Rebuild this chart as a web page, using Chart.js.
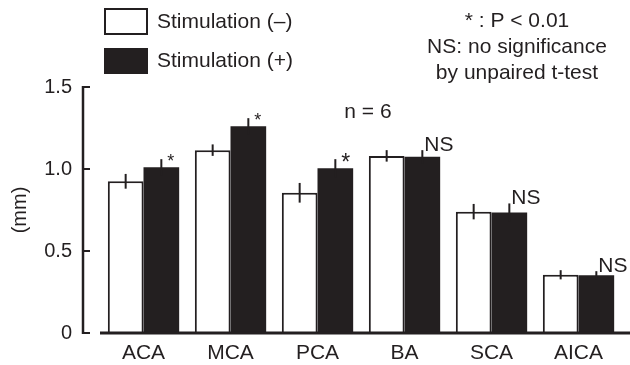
<!DOCTYPE html>
<html>
<head>
<meta charset="utf-8">
<script src="https://cdn.jsdelivr.net/npm/chart.js@4/dist/chart.umd.min.js"></script>
<style>
  html, body { margin: 0; padding: 0; background: #fff; }
  #wrap { width: 630px; height: 365px; }
</style>
</head>
<body>
<div id="wrap"><canvas id="vesselChart" width="630" height="365"></canvas></div>
<script>
// data (diameter, mm)
const categories = ['ACA', 'MCA', 'PCA', 'BA', 'SCA', 'AICA'];
const stimOff = [0.925, 1.115, 0.855, 1.08, 0.74, 0.355];
const stimOffErr = [0.045, 0.035, 0.06, 0.035, 0.047, 0.028];
const stimOn = [1.01, 1.26, 1.005, 1.075, 0.735, 0.352];
const stimOnErr = [0.05, 0.05, 0.055, 0.04, 0.055, 0.025];
const sigMarks = ['*', '*', '*', 'NS', 'NS', 'NS'];
const yTicks = [0, 0.5, 1.0, 1.5];
const yTickLabels = ['0', '0.5', '1.0', '1.5'];
const noteLines = ['* : P < 0.01', 'NS: no significance', 'by unpaired t-test'];
const sampleNote = 'n = 6';

const INK = '#231f20';
const FONT = "'Liberation Sans', Arial, Helvetica, sans-serif";

// axes, error bars, significance marks, notes and legend
const figureExtras = {
    id: 'figureExtras',
    afterDatasetsDraw(chart) {
        const ctx = chart.ctx;
        const area = chart.chartArea;
        const y = chart.scales.y;
        const errs = [stimOffErr, stimOnErr];

        ctx.save();
        ctx.strokeStyle = INK;
        ctx.fillStyle = INK;

        // error bars (no caps)
        ctx.lineWidth = 2;
        chart.data.datasets.forEach((ds, di) => {
            const meta = chart.getDatasetMeta(di);
            meta.data.forEach((bar, i) => {
                const v = ds.data[i], e = errs[di][i];
                ctx.beginPath();
                ctx.moveTo(bar.x, y.getPixelForValue(v + e));
                ctx.lineTo(bar.x, y.getPixelForValue(v - e));
                ctx.stroke();
            });
        });

        // y axis line with inward ticks
        const axisX = area.left - 17;
        ctx.lineWidth = 2.5;
        ctx.beginPath();
        ctx.moveTo(axisX, y.getPixelForValue(yTicks[yTicks.length - 1]) - 1);
        ctx.lineTo(axisX, y.getPixelForValue(0) + 1);
        ctx.stroke();
        ctx.lineWidth = 2;
        yTicks.forEach(t => {
            const py = y.getPixelForValue(t);
            ctx.beginPath();
            ctx.moveTo(axisX, py);
            ctx.lineTo(axisX + 7, py);
            ctx.stroke();
        });

        // x axis line
        ctx.lineWidth = 3;
        const y0 = y.getPixelForValue(0);
        ctx.beginPath();
        ctx.moveTo(area.left, y0);
        ctx.lineTo(chart.width, y0);
        ctx.stroke();

        // significance marks next to the stimulated bars' error bars
        const onMeta = chart.getDatasetMeta(1);
        ctx.textAlign = 'left';
        ctx.textBaseline = 'alphabetic';
        onMeta.data.forEach((bar, i) => {
            const top = y.getPixelForValue(stimOn[i] + stimOnErr[i]);
            const mark = sigMarks[i];
            if (mark === 'NS') {
                ctx.font = '21px ' + FONT;
                ctx.fillText(mark, bar.x + 2, top + 1);
            } else {
                const size = i === 2 ? 23 : 18;
                ctx.font = size + 'px ' + FONT;
                ctx.fillText(mark, bar.x + 6, top + size * 0.57 - 2);
            }
        });

        // n = 6
        ctx.font = '21px ' + FONT;
        ctx.textAlign = 'center';
        ctx.fillText(sampleNote, 368, 118);

        // notes, top right
        noteLines.forEach((line, k) => {
            ctx.fillText(line, 517, 27 + k * 26);
        });

        // legend
        ctx.textAlign = 'left';
        ctx.textBaseline = 'middle';
        chart.data.datasets.forEach((ds, di) => {
            const by = 9 + di * 39;
            if (di === 0) {
                ctx.fillStyle = '#fff';
                ctx.fillRect(105, by, 42, 25);
                ctx.lineWidth = 2;
                ctx.strokeRect(105, by, 42, 25);
            } else {
                ctx.fillStyle = INK;
                ctx.fillRect(104, by, 44, 26);
            }
            ctx.fillStyle = INK;
            ctx.fillText(ds.label, 157, by + 13);
        });

        ctx.restore();
    }
};

document.addEventListener('DOMContentLoaded', () => {
    const ctx = document.getElementById('vesselChart').getContext('2d');
    new Chart(ctx, {
        type: 'bar',
        data: {
            labels: categories,
            datasets: [
                {
                    label: 'Stimulation (\u2013)',
                    data: stimOff,
                    backgroundColor: '#ffffff',
                    borderColor: INK,
                    borderWidth: { top: 2, left: 2, right: 2, bottom: 0 },
                    borderSkipped: false
                },
                {
                    label: 'Stimulation (+)',
                    data: stimOn,
                    backgroundColor: INK,
                    borderWidth: 0
                }
            ]
        },
        options: {
            responsive: false,
            animation: false,
            devicePixelRatio: 1,
            layout: { padding: { top: 87, right: 8, bottom: 0, left: 0 } },
            plugins: {
                legend: { display: false },
                tooltip: { enabled: false }
            },
            datasets: {
                bar: { categoryPercentage: 0.82, barPercentage: 1.0 }
            },
            scales: {
                x: {
                    grid: { display: false, drawTicks: false },
                    border: { display: false },
                    ticks: { color: INK, font: { family: FONT, size: 21 }, padding: 8 },
                    afterFit: (scale) => { scale.height = 32; }
                },
                y: {
                    min: 0,
                    max: 1.5,
                    // tick marks are drawn by the plugin; tickLength only offsets the labels
                    grid: { display: false, drawTicks: true, tickLength: 17 },
                    border: { display: false },
                    afterBuildTicks: (scale) => {
                        scale.ticks = yTicks.map(v => ({ value: v }));
                    },
                    ticks: {
                        color: INK,
                        font: { family: FONT, size: 20 },
                        padding: 11,
                        callback: (v) => yTickLabels[yTicks.indexOf(v)]
                    },
                    title: {
                        display: true,
                        text: '(mm)',
                        color: INK,
                        font: { family: FONT, size: 20 },
                        padding: { top: 8, bottom: 0 }
                    },
                    afterFit: (scale) => { scale.width = 100; }
                }
            }
        },
        plugins: [figureExtras]
    });
});
</script>
</body>
</html>
